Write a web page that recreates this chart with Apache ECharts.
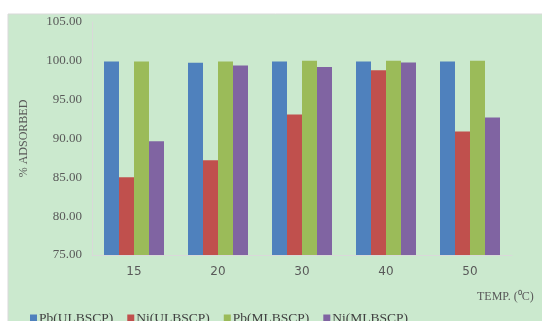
<!DOCTYPE html>
<html>
<head>
<meta charset="utf-8">
<script src="https://cdn.jsdelivr.net/npm/echarts@6/dist/echarts.min.js"></script>
<style>
  html, body { margin: 0; padding: 0; background: #fff; }
  #main { width: 542px; height: 321px; }
</style>
</head>
<body>
<div id="main"></div>
<script>
const temps = ["15", "20", "30", "40", "50"];
const pbUlbscp = [99.9, 99.75, 99.9, 99.9, 99.9];
const niUlbscp = [85.0, 87.2, 93.1, 98.8, 90.9];
const pbMlbscp = [99.9, 99.9, 100.0, 100.0, 100.0];
const niMlbscp = [89.65, 99.4, 99.2, 99.8, 92.7];

const chart = echarts.init(document.getElementById("main"));

const makeBar = (name, data, color) => ({
  name: name,
  type: "bar",
  data: data,
  barWidth: 15,
  barGap: "0%",
  itemStyle: { color: color },
});

const option = {
  backgroundColor: "#fff",
  animation: false,
  graphic: [
    {
      type: "rect",
      shape: { x: 8, y: 14, width: 540, height: 320 },
      style: { fill: "#cbe9ce", stroke: "#d9d9d9", lineWidth: 1 },
      z: -10,
    },
  ],
  legend: {
    left: 25,
    top: 306,
    itemWidth: 7,
    itemHeight: 7,
    itemGap: 14,
    icon: "rect",
    textStyle: {
      fontFamily: "Liberation Serif",
      fontSize: 13.5,
      color: "#404040",
      padding: [0, 0, 0, -3],
    },
  },
  grid: {
    left: 92,
    right: 30,
    top: 22,
    bottom: 66,
  },
  xAxis: {
    type: "category",
    data: temps,
    name: "TEMP. (\u2070C)",
    nameLocation: "end",
    nameGap: 0,
    nameTextStyle: {
      fontFamily: "Liberation Serif",
      fontSize: 12,
      color: "#595959",
      align: "left",
      verticalAlign: "top",
      padding: [36, 0, 0, -35],
    },
    axisLine: { lineStyle: { color: "#d9d9d9" } },
    axisTick: { show: false },
    axisLabel: {
      fontFamily: "DejaVu Sans",
      fontSize: 12,
      color: "#595959",
      margin: 11,
    },
  },
  yAxis: {
    type: "value",
    min: 75,
    max: 105,
    interval: 5,
    name: "% ADSORBED",
    nameLocation: "middle",
    nameGap: 62,
    nameTextStyle: {
      fontFamily: "Liberation Serif",
      fontSize: 12,
      color: "#595959",
    },
    axisLine: { show: true, lineStyle: { color: "#d9d9d9" } },
    axisTick: { show: false },
    splitLine: { show: false },
    axisLabel: {
      fontFamily: "Liberation Serif",
      fontSize: 13,
      color: "#595959",
      margin: 10,
      formatter: (v) => v.toFixed(2),
    },
  },
  series: [
    makeBar("Pb(ULBSCP)", pbUlbscp, "#4f81bd"),
    makeBar("Ni(ULBSCP)", niUlbscp, "#c0504d"),
    makeBar("Pb(MLBSCP)", pbMlbscp, "#9bbb59"),
    makeBar("Ni(MLBSCP)", niMlbscp, "#8064a2"),
  ],
};

chart.setOption(option);
</script>
</body>
</html>
